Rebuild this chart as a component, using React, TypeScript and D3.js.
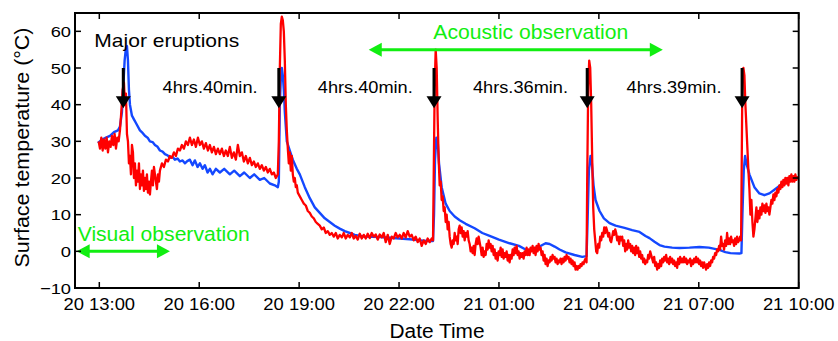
import React from "react";
import * as d3 from "d3";

// ---- data (time in hours since 20 00:00, temperature in °C) ----
const xTickHours = [13, 16, 19, 22, 25, 28, 31, 34];
const xTickLabels = ["20 13:00", "20 16:00", "20 19:00", "20 22:00", "21 01:00", "21 04:00", "21 07:00", "21 10:00"];
const yTicks = [-10, 0, 10, 20, 30, 40, 50, 60];
const yTickLabels = ["\u221210", "0", "10", "20", "30", "40", "50", "60"];

const eruptionTimes = [13.72, 18.39, 23.05, 27.65, 32.3];
const intervalLabels = ["4hrs.40min.", "4hrs.40min.", "4hrs.36min.", "4hrs.39min."];
const intervalLabelTimes = [14.9, 19.56, 24.22, 28.83];

const visualObs = [12.32, 15.12];
const acousticObs = [21.09, 29.92];

const blueSeries: [number, number][] = [
  [12.96, 29.5], [13.08, 30.5], [13.2, 31], [13.32, 31.5], [13.44, 32.5], [13.56, 33], [13.62, 34],
  [13.68, 38], [13.72, 45], [13.76, 52], [13.8, 55.5], [13.83, 56], [13.86, 52], [13.89, 44], [13.92, 40],
  [13.98, 37], [14.04, 36], [14.1, 35], [14.22, 33], [14.3, 32.3], [14.37, 31.5], [14.45, 31], [14.52, 30],
  [14.6, 29.8], [14.67, 29], [14.75, 28.5], [14.82, 27.5], [14.9, 27.2], [14.97, 26.5], [15.05, 26.2],
  [15.12, 25.5], [15.2, 25.8], [15.27, 25], [15.35, 25.3], [15.42, 24.5], [15.5, 24.8], [15.57, 24],
  [15.64, 24.6], [15.72, 25], [15.8, 23.5], [15.87, 24.8], [15.95, 23], [16.02, 24], [16.1, 22.5],
  [16.17, 23.5], [16.25, 21.5], [16.32, 22.5], [16.4, 21], [16.5, 22.5], [16.62, 21.5], [16.75, 22.5],
  [16.92, 21], [17.05, 22], [17.22, 20.5], [17.35, 21.5], [17.52, 20], [17.65, 21], [17.82, 19.5],
  [17.95, 20], [18.12, 18.5], [18.27, 18], [18.36, 17.5], [18.39, 19], [18.42, 40], [18.45, 47],
  [18.48, 50], [18.51, 48], [18.54, 44], [18.57, 38], [18.63, 30], [18.72, 27.5], [18.81, 25],
  [18.93, 22.5], [19.02, 21], [19.17, 17.5], [19.32, 14.5], [19.47, 12], [19.62, 10.5], [19.77, 9],
  [19.92, 8], [20.07, 7], [20.22, 6.2], [20.37, 5.5], [20.52, 5], [20.67, 4.5], [20.97, 4], [21.42, 3.9],
  [21.72, 3.7], [22.02, 3.5], [22.32, 3.3], [22.62, 3], [22.86, 2.8], [23.02, 2.8], [23.05, 10],
  [23.08, 25], [23.12, 31], [23.16, 30], [23.2, 24], [23.28, 17.5], [23.4, 13], [23.52, 11], [23.67, 9.5],
  [23.82, 8.5], [24.0, 7.5], [24.27, 6.3], [24.5, 5], [24.72, 4.2], [25.0, 3.2], [25.32, 2.2], [25.6, 1.5],
  [25.8, 0.5], [25.92, 0], [26.05, 0.8], [26.22, 1.3], [26.4, 2.2], [26.52, 2], [26.67, 1.3], [26.82, 0.5],
  [27.0, -0.3], [27.27, -1], [27.5, -1.5], [27.63, -1.3], [27.66, 8], [27.7, 22], [27.75, 26], [27.79, 24],
  [27.84, 18], [27.9, 14], [28.02, 11], [28.15, 9], [28.32, 7.7], [28.5, 7], [28.77, 6.4], [29.0, 5.8],
  [29.22, 5.3], [29.4, 4.2], [29.52, 3.6], [29.67, 2.6], [29.82, 1.7], [29.97, 1.3], [30.2, 1.0],
  [30.42, 0.9], [30.72, 1.0], [31.02, 1.2], [31.3, 1.0], [31.62, 0.4], [31.8, -0.2], [31.95, -0.5],
  [32.22, -0.6], [32.28, -0.5], [32.31, 10], [32.35, 22], [32.39, 26], [32.43, 24], [32.52, 21],
  [32.67, 17.5], [32.82, 15.8], [32.97, 15.3], [33.12, 15.8], [33.27, 16.8], [33.42, 17.8], [33.57, 18.8],
  [33.72, 19.5], [33.96, 20.3],
];

const redSeries: [number, number][] = [
  [12.98, 30], [13.02, 28], [13.06, 31], [13.1, 27.5], [13.14, 30.5], [13.18, 28], [13.22, 31], [13.26, 27],
  [13.3, 30], [13.34, 28.5], [13.38, 31.5], [13.42, 29], [13.46, 32], [13.5, 28], [13.54, 31], [13.58, 30],
  [13.62, 33], [13.66, 38], [13.7, 44], [13.74, 46], [13.77, 40], [13.8, 43], [13.83, 32], [13.86, 30],
  [13.89, 24], [13.92, 26], [13.95, 21], [13.98, 29], [14.01, 27], [14.04, 20], [14.07, 24], [14.1, 18],
  [14.13, 22], [14.16, 19], [14.19, 24], [14.22, 17], [14.25, 21], [14.28, 18], [14.31, 22], [14.34, 16.5],
  [14.37, 20], [14.4, 17], [14.43, 21], [14.46, 16], [14.49, 19], [14.52, 15.5], [14.55, 19], [14.58, 22],
  [14.61, 18], [14.64, 23], [14.67, 21], [14.7, 19], [14.73, 17], [14.76, 21], [14.79, 19], [14.82, 22],
  [14.88, 24], [14.94, 23], [15.0, 25], [15.06, 24.5], [15.12, 26], [15.18, 25.5], [15.24, 27], [15.3, 26],
  [15.36, 28], [15.42, 27.5], [15.48, 29], [15.54, 28], [15.6, 30], [15.66, 29], [15.72, 31], [15.78, 29],
  [15.84, 30.5], [15.9, 28.5], [15.96, 31], [16.02, 29], [16.08, 30], [16.14, 28], [16.2, 29.5],
  [16.26, 27.5], [16.32, 29], [16.38, 27], [16.44, 28.5], [16.5, 26.5], [16.56, 28], [16.62, 26.5],
  [16.68, 28], [16.74, 26], [16.8, 27.5], [16.86, 26], [16.92, 28.5], [16.98, 25.5], [17.04, 27],
  [17.1, 25], [17.16, 29], [17.22, 26], [17.28, 27], [17.34, 24.5], [17.4, 26], [17.46, 24], [17.52, 25.5],
  [17.58, 23.5], [17.64, 24.5], [17.7, 23], [17.76, 24], [17.82, 22.5], [17.88, 23.5], [17.94, 22],
  [18.0, 23], [18.06, 21.5], [18.12, 22.5], [18.18, 21], [18.24, 21.5], [18.3, 20], [18.36, 21],
  [18.39, 30], [18.42, 50], [18.45, 62], [18.48, 64], [18.51, 63], [18.54, 60], [18.57, 52], [18.6, 40],
  [18.63, 33], [18.66, 28], [18.69, 24], [18.72, 27], [18.75, 22], [18.78, 26], [18.81, 21], [18.84, 19],
  [18.87, 20], [18.9, 17.5], [18.93, 18], [18.96, 16], [19.02, 15], [19.08, 14], [19.14, 13], [19.2, 12.5],
  [19.26, 11], [19.32, 10.5], [19.38, 9.5], [19.44, 9], [19.5, 8], [19.56, 7.5], [19.62, 7], [19.68, 6],
  [19.74, 6.5], [19.8, 5], [19.86, 5.5], [19.92, 4.5], [19.98, 5], [20.04, 4], [20.1, 5], [20.16, 3.5],
  [20.22, 4.5], [20.28, 3.8], [20.34, 5], [20.4, 3.5], [20.46, 4.5], [20.52, 3.8], [20.58, 5], [20.64, 3.5],
  [20.7, 4.2], [20.76, 3.2], [20.82, 4.8], [20.88, 3.5], [20.94, 4.5], [21.0, 3.5], [21.06, 4.8],
  [21.12, 3.6], [21.18, 5], [21.24, 4], [21.3, 4.6], [21.36, 3.2], [21.42, 4.6], [21.48, 3.8], [21.54, 5],
  [21.6, 2.5], [21.66, 4.5], [21.72, 2], [21.78, 4], [21.84, 3.5], [21.9, 5], [21.96, 3.8], [22.02, 4.5],
  [22.08, 3.5], [22.14, 5], [22.2, 3.8], [22.26, 5.5], [22.32, 4], [22.38, 4.5], [22.44, 3], [22.5, 4],
  [22.56, 2.5], [22.62, 3.5], [22.68, 1.5], [22.74, 3], [22.8, 2], [22.86, 3.5], [22.92, 2.5], [22.98, 3.5],
  [23.02, 3], [23.04, 20], [23.07, 45], [23.1, 55], [23.13, 50], [23.16, 36], [23.19, 25], [23.22, 18],
  [23.25, 19], [23.28, 14], [23.31, 15], [23.34, 11], [23.37, 12], [23.4, 8], [23.43, 10], [23.46, 6],
  [23.49, 8], [23.52, 4], [23.55, 2], [23.58, 1], [23.61, 3], [23.64, 2], [23.67, 5], [23.7, 3], [23.73, 4],
  [23.76, 2], [23.79, 6], [23.82, 7], [23.85, 5], [23.88, 6.5], [23.91, 4], [23.94, 5.5], [23.97, 3],
  [24.0, 5], [24.03, 4], [24.06, 5.5], [24.09, 3], [24.12, 2], [24.15, 0], [24.18, 1], [24.21, -0.5],
  [24.24, 1.5], [24.27, -1], [24.3, 2], [24.33, 3.5], [24.36, 2], [24.39, 4], [24.42, 2.5], [24.45, 1],
  [24.48, -1], [24.51, 1], [24.54, -1.5], [24.57, 0], [24.6, -1], [24.63, 2], [24.66, 0.5], [24.69, 3],
  [24.72, 1], [24.75, 2], [24.78, 0], [24.81, 1.5], [24.84, -1], [24.87, 0.5], [24.9, -2], [24.93, -0.5],
  [24.96, -2.5], [24.99, 0], [25.02, -1], [25.05, 1], [25.08, -1.5], [25.11, 0.5], [25.14, -2],
  [25.17, -0.5], [25.2, -1.5], [25.23, 0], [25.26, -2.5], [25.29, -1], [25.32, -3], [25.35, -1], [25.38, -2],
  [25.41, 0.5], [25.44, -1], [25.47, 1], [25.5, -0.5], [25.53, 1.5], [25.56, -1], [25.59, 0], [25.62, -2],
  [25.65, -0.5], [25.68, -1.5], [25.71, -0.5], [25.74, -2], [25.77, 0], [25.8, -1], [25.83, 1], [25.86, -1],
  [25.89, 0.5], [25.92, -1], [25.95, 1], [25.98, 0], [26.01, 1.5], [26.04, -0.5], [26.07, 1], [26.1, -1],
  [26.13, 1.5], [26.16, 0], [26.19, 2], [26.22, 0.5], [26.25, 1], [26.28, -1], [26.31, 0], [26.34, -2.5],
  [26.37, -1], [26.4, -3.5], [26.43, -2], [26.46, -4], [26.49, -2.5], [26.52, -3], [26.55, -1.5],
  [26.58, -2.5], [26.61, -1], [26.64, -2], [26.67, -1.5], [26.7, -3], [26.73, -2], [26.76, -3.5],
  [26.79, -2.5], [26.82, -3], [26.85, -2], [26.88, -3.5], [26.91, -2], [26.94, -3], [26.97, -1.5],
  [27.0, -2.5], [27.03, -1], [27.06, -2], [27.09, -1.5], [27.12, -3], [27.15, -2], [27.18, -3.5],
  [27.21, -2.5], [27.24, -4], [27.27, -3], [27.3, -5], [27.33, -4], [27.36, -5], [27.39, -4], [27.42, -4.5],
  [27.45, -3.5], [27.48, -4], [27.51, -3], [27.54, -3.5], [27.57, -2.5], [27.6, -2], [27.63, -3],
  [27.65, 20], [27.68, 45], [27.71, 52], [27.74, 50], [27.77, 40], [27.8, 25], [27.83, 12], [27.86, 6],
  [27.89, 3], [27.92, 0], [27.95, -0.5], [27.98, 2], [28.01, 1], [28.04, 4], [28.07, 3], [28.1, 5],
  [28.13, 4], [28.16, 6.5], [28.19, 5], [28.22, 6.5], [28.25, 5.5], [28.28, 4], [28.31, 5], [28.34, 3],
  [28.37, 2.5], [28.4, 4], [28.43, 5.5], [28.46, 4.5], [28.49, 6], [28.52, 5], [28.55, 3], [28.58, 4],
  [28.61, 2], [28.64, 4], [28.67, 3], [28.7, 4], [28.73, 1.5], [28.76, 3], [28.79, 0], [28.82, 2],
  [28.85, 0.5], [28.88, 3], [28.91, 1], [28.94, 2], [28.97, 0], [29.0, 1.5], [29.03, -0.5], [29.06, 1],
  [29.09, -1], [29.12, 1.5], [29.15, -0.5], [29.18, 1], [29.21, -1.5], [29.24, 0], [29.27, -2], [29.3, -1],
  [29.33, -3], [29.36, -2], [29.39, -3.5], [29.42, -2.5], [29.45, -3], [29.48, -1], [29.51, -2], [29.54, 0],
  [29.57, -1], [29.6, -2], [29.63, -3], [29.66, -1.5], [29.69, -4], [29.72, -3], [29.75, -5], [29.78, -3.5],
  [29.81, -4.5], [29.84, -2.5], [29.87, -4], [29.9, -2], [29.93, -3], [29.96, -1.5], [29.99, -2.5],
  [30.02, -1], [30.05, -3], [30.08, -2], [30.11, -3.5], [30.14, -1.5], [30.17, -3], [30.2, -2],
  [30.23, -3.5], [30.26, -2.5], [30.29, -4], [30.32, -3], [30.35, -4.5], [30.38, -2], [30.41, -3.5],
  [30.44, -1.5], [30.47, -3], [30.5, -2], [30.53, -3], [30.56, -1.5], [30.59, -3], [30.62, -2],
  [30.65, -3.5], [30.68, -2.5], [30.71, -3], [30.74, -2], [30.77, -4], [30.8, -2.5], [30.83, -3.5],
  [30.86, -2], [30.89, -3], [30.92, -1.5], [30.95, -3], [30.98, -2], [31.01, -3.5], [31.04, -2.5],
  [31.07, -4], [31.1, -3], [31.13, -4.5], [31.16, -3], [31.19, -4], [31.22, -5], [31.25, -3.5],
  [31.28, -4.5], [31.31, -3], [31.34, -4], [31.37, -2.5], [31.4, -3], [31.43, -1.5], [31.46, -2],
  [31.49, -0.5], [31.52, -1], [31.55, 0.5], [31.58, 0], [31.61, 1.5], [31.64, 0.5], [31.67, 4], [31.7, 1.5],
  [31.73, 2], [31.76, 0.5], [31.79, 3], [31.82, 1.5], [31.85, 5], [31.88, 2], [31.91, 3.5], [31.94, 2],
  [31.97, 4], [32.0, 2.5], [32.03, 3], [32.06, 1.5], [32.09, 3.5], [32.12, 2], [32.15, 4], [32.18, 2.5],
  [32.21, 3], [32.24, 4], [32.27, 3], [32.29, 25], [32.31, 48], [32.34, 50], [32.37, 48], [32.4, 40],
  [32.43, 34], [32.46, 28], [32.49, 22], [32.52, 17], [32.55, 10], [32.58, 14], [32.61, 8], [32.64, 4],
  [32.67, 6], [32.7, 9], [32.73, 12], [32.76, 8], [32.79, 11], [32.82, 9], [32.85, 12], [32.88, 10],
  [32.91, 13], [32.94, 11], [32.97, 12.5], [33.0, 10.5], [33.03, 13], [33.06, 11], [33.09, 12], [33.12, 10],
  [33.15, 12], [33.18, 14], [33.21, 13], [33.24, 15.5], [33.27, 14], [33.3, 16], [33.33, 15], [33.36, 17],
  [33.39, 16], [33.42, 18], [33.45, 17], [33.48, 19], [33.51, 17.5], [33.54, 19.5], [33.57, 18], [33.6, 20],
  [33.63, 18.5], [33.66, 20], [33.69, 18], [33.72, 20.5], [33.75, 19], [33.78, 21], [33.81, 19],
  [33.84, 20.5], [33.87, 19], [33.9, 21], [33.93, 19.5], [33.96, 20.5],
];

const W = 838;
const H = 341;
const M = { left: 75, right: 798.7, top: 13, bottom: 288 };
const FONT = "'Liberation Sans', Arial, Helvetica, sans-serif";
const BLUE = "#1448ff";
const RED = "#ff0000";
const GREEN = "#11ee11";

export default function App() {
  const x = d3.scaleLinear().domain([12.27, 34]).range([M.left, M.right]);
  const y = d3.scaleLinear().domain([-10, 65]).range([M.bottom, M.top]);
  const line = d3
    .line<[number, number]>()
    .x((d) => x(d[0]))
    .y((d) => y(d[1]));

  const tickLen = 6;

  const greenArrow = (t0: number, t1: number, v: number, key: string) => {
    const x0 = x(t0);
    const x1 = x(t1);
    const yy = y(v);
    const hl = 13;
    const hw = 7;
    return (
      <g key={key} fill={GREEN} stroke="none">
        <line x1={x0 + hl - 1} x2={x1 - hl + 1} y1={yy} y2={yy} stroke={GREEN} strokeWidth={3} />
        <polygon points={`${x0},${yy} ${x0 + hl},${yy - hw} ${x0 + hl},${yy + hw}`} />
        <polygon points={`${x1},${yy} ${x1 - hl},${yy - hw} ${x1 - hl},${yy + hw}`} />
      </g>
    );
  };

  return (
    <svg
      width={W}
      height={H}
      style={{ position: "absolute", left: 0, top: 0, background: "#fff" }}
      fontFamily={FONT}
    >
      <defs>
        <clipPath id="plotclip">
          <rect x={M.left} y={M.top} width={M.right - M.left} height={M.bottom - M.top} />
        </clipPath>
      </defs>

      <g clipPath="url(#plotclip)">
        <path d={line(blueSeries) || ""} fill="none" stroke={BLUE} strokeWidth={2.4} strokeLinejoin="round" />
        <path d={line(redSeries) || ""} fill="none" stroke={RED} strokeWidth={2.3} strokeLinejoin="round" />
      </g>

      {/* eruption arrows */}
      {eruptionTimes.map((t, i) => {
        const cx = x(t);
        const yTop = y(50);
        const yTip = y(39);
        return (
          <g key={"er" + i}>
            <line x1={cx} x2={cx} y1={yTop} y2={yTip - 10} stroke="#000" strokeWidth={3} />
            <polygon points={`${cx - 7.5},${yTip - 12} ${cx + 7.5},${yTip - 12} ${cx},${yTip}`} fill="#000" />
          </g>
        );
      })}

      {/* observation arrows */}
      {greenArrow(visualObs[0], visualObs[1], 0, "vis")}
      {greenArrow(acousticObs[0], acousticObs[1], 55, "aco")}

      {/* annotations */}
      <text x={94.3} y={47} fontSize={18.5} textLength={145} lengthAdjust="spacingAndGlyphs" fill="#000">
        Major eruptions
      </text>
      {intervalLabels.map((s, i) => (
        <text
          key={"iv" + i}
          x={x(intervalLabelTimes[i])}
          y={93.3}
          fontSize={16}
          textLength={95}
          lengthAdjust="spacingAndGlyphs"
          fill="#000"
        >
          {s}
        </text>
      ))}
      <text x={433.3} y={39.3} fontSize={21} textLength={195} lengthAdjust="spacingAndGlyphs" fill={GREEN}>
        Acoustic observation
      </text>
      <text x={77.7} y={240.7} fontSize={20.5} textLength={172} lengthAdjust="spacingAndGlyphs" fill={GREEN}>
        Visual observation
      </text>

      {/* axes frame */}
      <rect
        x={M.left}
        y={M.top}
        width={M.right - M.left}
        height={M.bottom - M.top}
        fill="none"
        stroke="#000"
        strokeWidth={2}
      />
      {xTickHours.map((h, i) => (
        <g key={"xt" + i}>
          <line x1={x(h)} x2={x(h)} y1={M.bottom} y2={M.bottom - tickLen} stroke="#000" strokeWidth={1.5} />
          <line x1={x(h)} x2={x(h)} y1={M.top} y2={M.top + tickLen} stroke="#000" strokeWidth={1.5} />
          <text
            x={x(h)}
            y={310}
            fontSize={16}
            textAnchor="middle"
            textLength={71.6}
            lengthAdjust="spacingAndGlyphs"
            fill="#000"
          >
            {xTickLabels[i]}
          </text>
        </g>
      ))}
      {yTicks.map((v, i) => {
        const lab = yTickLabels[i];
        const w = lab.length === 1 ? 10.2 : lab.length === 2 ? 20.3 : 31;
        return (
          <g key={"yt" + i}>
            <line x1={M.left} x2={M.left + tickLen} y1={y(v)} y2={y(v)} stroke="#000" strokeWidth={1.5} />
            <line x1={M.right} x2={M.right - tickLen} y1={y(v)} y2={y(v)} stroke="#000" strokeWidth={1.5} />
            <text
              x={71}
              y={y(v) + 5.5}
              fontSize={15.5}
              textAnchor="end"
              textLength={w}
              lengthAdjust="spacingAndGlyphs"
              fill="#000"
            >
              {lab}
            </text>
          </g>
        );
      })}

      <text x={437} y={338} fontSize={19.5} textAnchor="middle" textLength={95} lengthAdjust="spacingAndGlyphs" fill="#000">
        Date Time
      </text>
      <text
        transform="translate(28.5,147.5) rotate(-90)"
        fontSize={21}
        textAnchor="middle"
        textLength={240}
        lengthAdjust="spacingAndGlyphs"
        fill="#000"
      >
        Surface temperature (°C)
      </text>
    </svg>
  );
}
